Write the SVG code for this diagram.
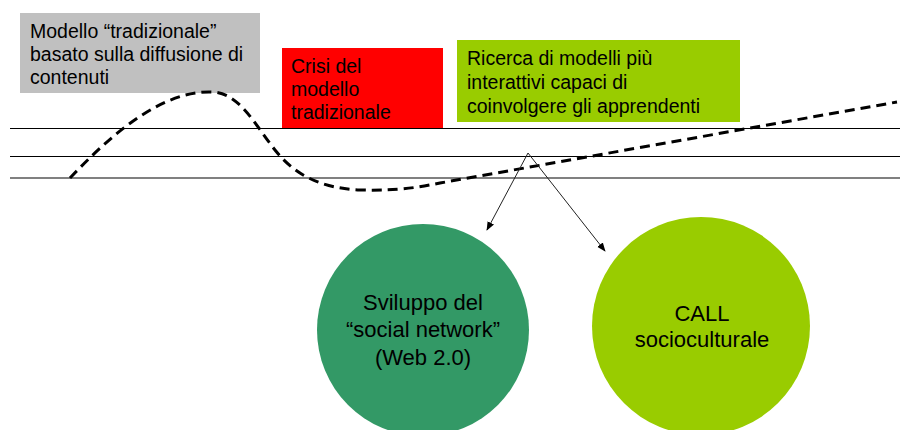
<svg xmlns="http://www.w3.org/2000/svg" width="900" height="430" viewBox="0 0 900 430">
<defs>
<style>
text{font-family:"Liberation Sans",Arial,sans-serif;fill:#000}
.box{font-size:19.5px}
.circ{font-size:22px;text-anchor:middle}
.hl{stroke:#000;stroke-width:1}
.conn{stroke:#222;stroke-width:1;fill:none;marker-end:url(#ah)}
</style>
<marker id="ah" viewBox="0 0 10 10" refX="9" refY="5" markerWidth="9" markerHeight="9" markerUnits="userSpaceOnUse" orient="auto">
<path d="M0,1 L10,5 L0,9 Z" fill="#000"/>
</marker>
</defs>
<rect width="900" height="430" fill="#fff"/>
<g id="axes">
<line class="hl" x1="10" y1="128.5" x2="900" y2="128.5"/>
<line class="hl" x1="10" y1="156.5" x2="900" y2="156.5"/>
<line x1="10" y1="178" x2="900" y2="178" stroke="#808080" stroke-width="2"/>
</g>
<g id="box-tradizionale">
<rect x="20" y="13" width="240" height="80" fill="#c0c0c0"/>
<text class="box" x="30" y="38">Modello “tradizionale”</text>
<text class="box" x="30" y="61">basato sulla diffusione di</text>
<text class="box" x="30" y="84">contenuti</text>
</g>
<g id="box-crisi">
<rect x="282" y="48" width="161" height="80" fill="#ff0000"/>
<text class="box" x="291" y="73">Crisi del</text>
<text class="box" x="291" y="96">modello</text>
<text class="box" x="291" y="119">tradizionale</text>
</g>
<g id="box-ricerca">
<rect x="457" y="40" width="283" height="82" fill="#99cc00"/>
<text class="box" x="467" y="65">Ricerca di modelli più</text>
<text class="box" x="467" y="89">interattivi capaci di</text>
<text class="box" x="467" y="113">coinvolgere gli apprendenti</text>
</g>
<g id="curve">
<path d="M70,178 C108,138 160,90 212,92 C240,93 255,125 275,150 C295,175 320,188 360,190 C400,191 420,187 440,183 L897,102" fill="none" stroke="#000" stroke-width="3" stroke-dasharray="10,6"/>
</g>
<g id="node-social">
<circle cx="423" cy="330" r="106" fill="#339966"/>
<text class="circ" x="423" y="310">Sviluppo del</text>
<text class="circ" x="423" y="337">“social network”</text>
<text class="circ" x="423" y="365">(Web 2.0)</text>
</g>
<g id="node-call">
<circle cx="701" cy="326" r="109" fill="#99cc00"/>
<text class="circ" x="702" y="321">CALL</text>
<text class="circ" x="702" y="347">socioculturale</text>
</g>
<g id="connectors">
<line class="conn" x1="528" y1="153" x2="487" y2="230"/>
<line class="conn" x1="528" y1="153" x2="605" y2="251"/>
</g>
</svg>
